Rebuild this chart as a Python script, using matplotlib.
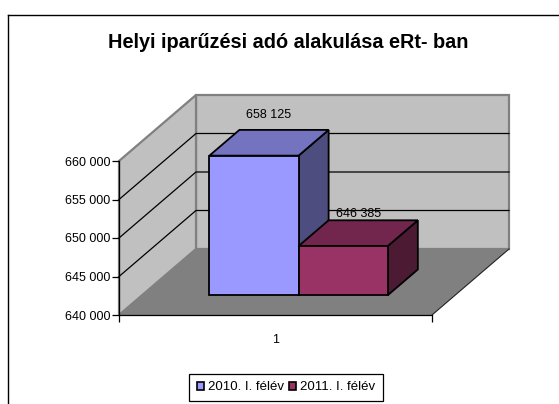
import matplotlib.pyplot as plt
from matplotlib.patches import Polygon, Patch
from matplotlib.lines import Line2D
from matplotlib.ticker import FuncFormatter

plt.rcParams['font.family'] = ['Liberation Sans', 'DejaVu Sans']

# adatok
cim = 'Helyi iparűzési adó alakulása eRt- ban'
kategoriak = ['1']
sorozatok = ['2010. I. félév', '2011. I. félév']
ertekek = [658125, 646385]
y_min, y_max, y_lepes = 640000, 660000, 5000

# szinek: elol, teteje, oldala
szinek = [('#9999FF', '#7373BF', '#4D4D80'),
          ('#993366', '#73264D', '#4D1A33')]

W, H = 559, 404
fig = plt.figure(figsize=(W / 100, H / 100), dpi=100)

# a tengely az elso (bal-elso) sik koordinatai szerint
ax = fig.add_axes([119 / W, (H - 315) / H, 313 / W, 154 / H])
ax.set_xlim(0, 1)
ax.set_ylim(y_min, y_max)
ax.patch.set_alpha(0)

# melyseg eltolas (adat egysegben)
DX = 77 / 313
DV = 66 / 154 * (y_max - y_min)


def proj(x, v, d):
    return (x + d * DX, v + d * DV)


# hatso fal, oldalfal, padlo
fal = '#C0C0C0'
ax.add_patch(Polygon([proj(0, y_min, 1), proj(1, y_min, 1), proj(1, y_max, 1), proj(0, y_max, 1)],
                     closed=True, fc=fal, ec='#808080', lw=1.6, clip_on=False, zorder=1))
ax.add_patch(Polygon([proj(0, y_min, 0), proj(0, y_max, 0), proj(0, y_max, 1), proj(0, y_min, 1)],
                     closed=True, fc=fal, ec='#808080', lw=1.6, clip_on=False, zorder=1))
ax.add_patch(Polygon([proj(0, y_min, 0), proj(1, y_min, 0), proj(1, y_min, 1), proj(0, y_min, 1)],
                     closed=True, fc='#808080', ec='none', clip_on=False, zorder=1.5))
ax.plot([1, 1 + DX], [y_min, y_min + DV], color='#222222', lw=0.8, clip_on=False, zorder=1.6)

# racsvonalak
for v in range(y_min + y_lepes, y_max, y_lepes):
    p0, p1, p2 = proj(0, v, 0), proj(0, v, 1), proj(1, v, 1)
    ax.plot([p0[0], p1[0], p2[0]], [p0[1], p1[1], p2[1]], color='black', lw=0.9,
            clip_on=False, zorder=2)

# oszlopok
csoport = 0.57
sz = csoport / len(ertekek)
d0, d1 = 0.30, 0.69
cimke_eltolas = [15.5, 9.3]
for i, (ert, (c_elol, c_teto, c_oldal)) in enumerate(zip(ertekek, szinek)):
    x0 = 0.5 - csoport / 2 + i * sz
    x1 = x0 + sz
    z = 3 + i
    elol = [proj(x0, y_min, d0), proj(x1, y_min, d0), proj(x1, ert, d0), proj(x0, ert, d0)]
    teto = [proj(x0, ert, d0), proj(x1, ert, d0), proj(x1, ert, d1), proj(x0, ert, d1)]
    oldal = [proj(x1, y_min, d0), proj(x1, y_min, d1), proj(x1, ert, d1), proj(x1, ert, d0)]
    for pts, c in [(oldal, c_oldal), (teto, c_teto), (elol, c_elol)]:
        ax.add_patch(Polygon(pts, closed=True, fc=c, ec='black', lw=1.3,
                             joinstyle='miter', clip_on=False, zorder=z))
    lx, ly = proj((x0 + x1) / 2, ert, (d0 + d1) / 2)
    ax.annotate(f'{ert:,}'.replace(',', ' '), (lx, ly), xytext=(0, cimke_eltolas[i]),
                textcoords='offset points', ha='center', va='bottom', fontsize=9,
                zorder=10, annotation_clip=False)

# tengelyek
for s in ['top', 'right']:
    ax.spines[s].set_visible(False)
ax.spines['left'].set_zorder(2.5)
ax.spines['bottom'].set_zorder(2.5)
ax.spines['left'].set_linewidth(0.9)
ax.spines['bottom'].set_linewidth(0.9)
ax.set_yticks(range(y_min, y_max + 1, y_lepes))
ax.yaxis.set_major_formatter(FuncFormatter(lambda v, p: f'{int(v):,}'.replace(',', ' ')))
ax.tick_params(axis='y', length=5, width=0.9, pad=1, labelsize=9)
ax.set_xticks([0.5], kategoriak)
ax.set_xticks([0, 1], minor=True)
ax.tick_params(axis='x', which='major', length=0, pad=14, labelsize=9)
ax.tick_params(axis='x', which='minor', length=5, width=0.9)

# cim
fig.text(288 / W, 1 - 43 / H, cim, ha='center', va='center', fontsize=14.3,
         fontweight='bold')

# jelmagyarazat
kezelok = [Patch(fc=c[0], ec='black', lw=1.2) for c in szinek]
fig.legend(kezelok, sorozatok, loc='center', bbox_to_anchor=(286 / W, 1 - 387.5 / H),
           ncol=2, fontsize=9.5, frameon=True, fancybox=False, edgecolor='black',
           framealpha=1, handlelength=0.55, handleheight=0.6, handletextpad=0.3,
           columnspacing=0.4, borderpad=0.55, borderaxespad=0)
fig.legends[0].get_frame().set_linewidth(0.9)

# keret
fig.add_artist(Line2D([8 / W, 8 / W], [1 - 15 / H, 0], color='black', lw=1))
fig.add_artist(Line2D([8 / W, 1], [1 - 15 / H, 1 - 15 / H], color='black', lw=1))

fig.savefig('out.png', dpi=100)
